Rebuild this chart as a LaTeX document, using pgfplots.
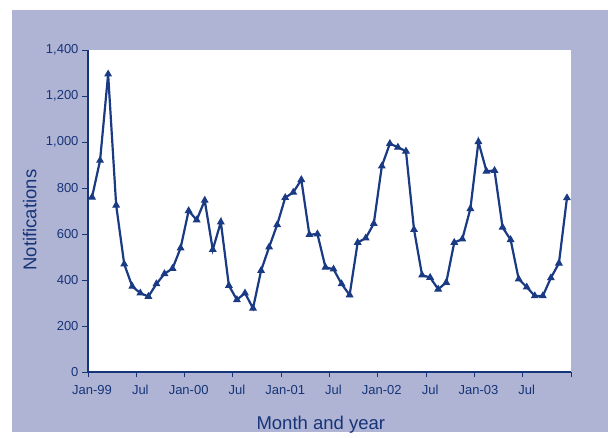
\documentclass[border=0pt]{standalone}
\usepackage{fontspec}
\setmainfont{Liberation Sans}
\usepackage{pgfplots}
\pgfplotsset{compat=1.18}
\definecolor{framebg}{RGB}{176,180,212}
\definecolor{navy}{RGB}{26,58,132}
\definecolor{axnavy}{RGB}{22,52,120}
\begin{document}
\begin{tikzpicture}[x=1pt,y=1pt]
\fill[white] (0,0) rectangle (608,432);
\fill[framebg] (12,0) rectangle (608,422);
\begin{axis}[
  at={(88pt,60pt)}, anchor=south west,
  scale only axis, width=483pt, height=322pt,
  axis background/.style={fill=white},
  axis lines*=left,
  axis line style={axnavy, line width=1.2pt},
  tick style={axnavy, line width=1pt},
  tick align=outside,
  major tick length=6pt,
  xmin=-0.5, xmax=59.5, ymin=0, ymax=1400,
  ytick={0,200,400,600,800,1000,1200,1400},
  /pgf/number format/assume math mode=true,
  /pgf/number format/1000 sep={,},
  xtick={-0.5,5.5,11.5,17.5,23.5,29.5,35.5,41.5,47.5,53.5,59.5},
  xticklabels={},
  major x tick style={/pgfplots/major tick length=5pt},
  extra x ticks={0,6,12,18,24,30,36,42,48,54},
  extra x tick labels={Jan-99,Jul,Jan-00,Jul,Jan-01,Jul,Jan-02,Jul,Jan-03,Jul},
  extra x tick style={major tick length=0pt, tick style={draw=none}},
  ticklabel style={font=\fontsize{13}{15}\selectfont, text=axnavy},
  xticklabel style={yshift=-10pt},
  xlabel={Month and year},
  ylabel={Notifications},
  label style={font=\fontsize{18.5}{21}\selectfont, text=axnavy},
  xlabel style={at={(axis description cs:0.482,-0.18)}, anchor=base},
  ylabel style={at={(axis description cs:-0.099,0.472)}, anchor=south},
  clip=false,
]
\addplot[navy, line width=2.2pt, mark=triangle*, mark size=3.6pt, mark options={solid, fill=navy, line width=1pt}]
coordinates {
(0,760)(1,920)(2,1295)(3,725)(4,469)(5,372)(6,343)(7,328)(8,383)(9,427)(10,450)(11,539)
(12,701)(13,661)(14,746)(15,532)(16,652)(17,376)(18,314)(19,343)(20,277)(21,441)(22,543)(23,640)
(24,758)(25,781)(26,836)(27,597)(28,600)(29,455)(30,447)(31,383)(32,335)(33,563)(34,582)(35,645)
(36,895)(37,993)(38,977)(39,960)(40,619)(41,421)(42,411)(43,360)(44,389)(45,563)(46,578)(47,710)
(48,1001)(49,873)(50,876)(51,629)(52,575)(53,404)(54,369)(55,331)(56,331)(57,409)(58,473)(59,757)
};
\end{axis}
\end{tikzpicture}
\end{document}
